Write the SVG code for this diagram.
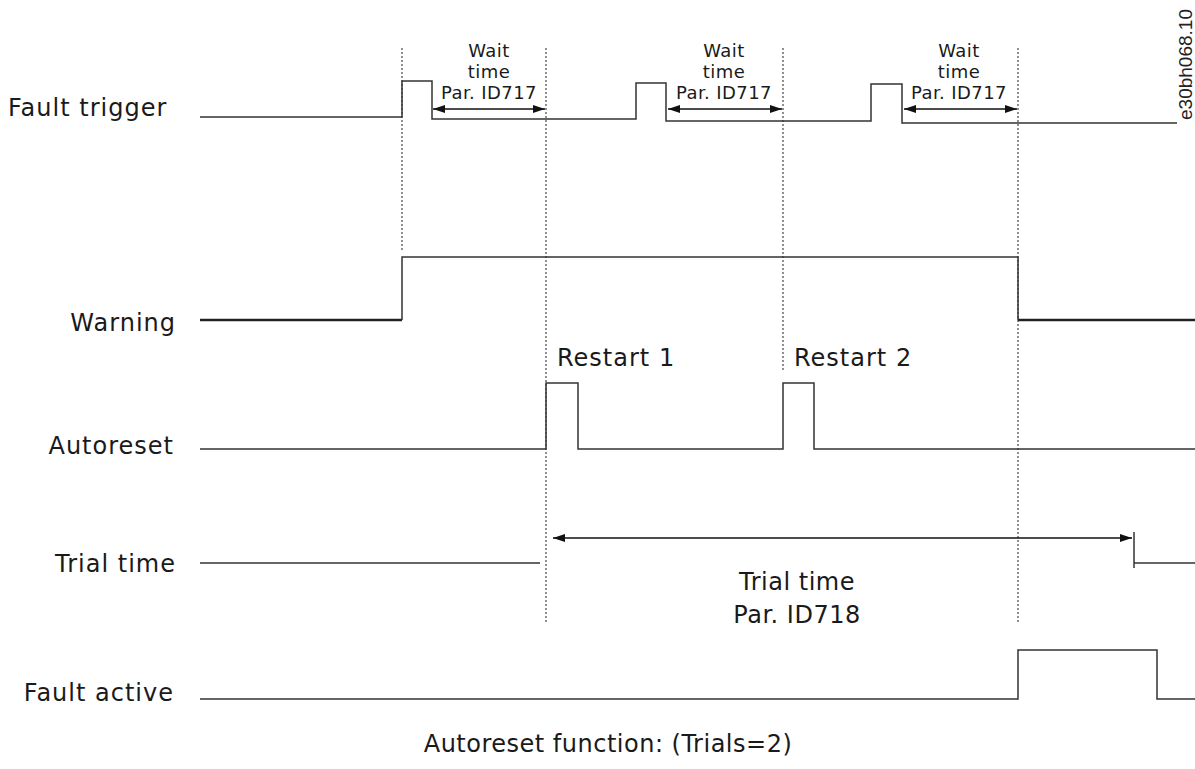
<svg xmlns="http://www.w3.org/2000/svg" width="1195" height="769" viewBox="0 0 1195 769">
<style>
.lbl{font-family:"DejaVu Sans",Verdana,sans-serif;font-size:24px;letter-spacing:1px;fill:#1a1a1a}
.mid{font-family:"DejaVu Sans",Verdana,sans-serif;font-size:24px;letter-spacing:0.5px;fill:#1a1a1a;text-anchor:middle}
.sm{font-family:"DejaVu Sans",Verdana,sans-serif;font-size:18px;letter-spacing:0.4px;fill:#1a1a1a;text-anchor:middle}
.sig{fill:none;stroke:#333;stroke-width:1.5}
.thick{fill:none;stroke:#222;stroke-width:2.5}
.dot{stroke:#555;stroke-width:1.3;stroke-dasharray:2 2;fill:none}
.arr{stroke:#111;stroke-width:1.5;fill:none;marker-start:url(#ah);marker-end:url(#ah)}
</style>
<defs>
<marker id="ah" viewBox="0 0 12 8" refX="12" refY="4" markerWidth="12" markerHeight="8" markerUnits="userSpaceOnUse" orient="auto-start-reverse">
<path d="M0,0 L12,4 L0,8 Z" fill="#111"/>
</marker>
</defs>
<rect width="1195" height="769" fill="#fff"/>
<g id="guides">
<line class="dot" x1="402" y1="48" x2="402" y2="250"/>
<line class="dot" x1="546" y1="48" x2="546" y2="622"/>
<line class="dot" x1="783" y1="48" x2="783" y2="370"/>
<line class="dot" x1="1018" y1="48" x2="1018" y2="622"/>
</g>
<g id="fault-trigger">
<text class="lbl" x="8" y="116">Fault trigger</text>
<polyline class="sig" points="200,117 402,117 402,81 432,81 432,119 636,119 636,83 666,83 666,121 871,121 871,84 902,84 902,123 1177,123"/>
<text class="sm" x="489" y="57">Wait</text>
<text class="sm" x="489" y="78">time</text>
<text class="sm" x="489" y="99">Par. ID717</text>
<text class="sm" x="724" y="57">Wait</text>
<text class="sm" x="724" y="78">time</text>
<text class="sm" x="724" y="99">Par. ID717</text>
<text class="sm" x="959" y="57">Wait</text>
<text class="sm" x="959" y="78">time</text>
<text class="sm" x="959" y="99">Par. ID717</text>
</g>
<g id="warning">
<text class="lbl" x="176" y="331" text-anchor="end">Warning</text>
<polyline class="thick" points="200,320 402,320"/>
<polyline class="sig" points="402,320 402,257 1018,257 1018,320"/>
<polyline class="thick" points="1018,320 1195,320"/>
</g>
<g id="autoreset">
<text class="lbl" x="174" y="454" text-anchor="end">Autoreset</text>
<polyline class="sig" points="200,449 546,449 546,383 578,383 578,449 783,449 783,383 814,383 814,449 1195,449"/>
<text class="lbl" x="557" y="366">Restart 1</text>
<text class="lbl" x="794" y="366">Restart 2</text>
</g>
<g id="trial-time">
<text class="lbl" x="176" y="572" text-anchor="end">Trial time</text>
<polyline class="sig" points="200,563 540,563"/>
<polyline class="sig" points="1134,532 1134,568"/>
<polyline class="sig" points="1134,563 1195,563"/>
<text class="mid" x="797" y="590">Trial time</text>
<text class="mid" x="797" y="623">Par. ID718</text>
</g>
<g id="fault-active">
<text class="lbl" x="174" y="701" text-anchor="end">Fault active</text>
<polyline class="sig" points="200,699 1018,699 1018,650 1157,650 1157,699 1195,699"/>
</g>
<g id="connectors">
<line class="arr" x1="433" y1="109" x2="545" y2="109"/>
<line class="arr" x1="668" y1="109" x2="782" y2="109"/>
<line class="arr" x1="904" y1="109" x2="1017" y2="109"/>
<line class="arr" x1="553" y1="538" x2="1132" y2="538"/>
</g>
<g id="caption">
<text class="mid" x="608" y="752">Autoreset function: (Trials=2)</text>
<text transform="translate(1192,120) rotate(-90)" font-family="'Liberation Sans',Arial,sans-serif" font-size="19" fill="#222">e30bh068.10</text>
</g>
</svg>
